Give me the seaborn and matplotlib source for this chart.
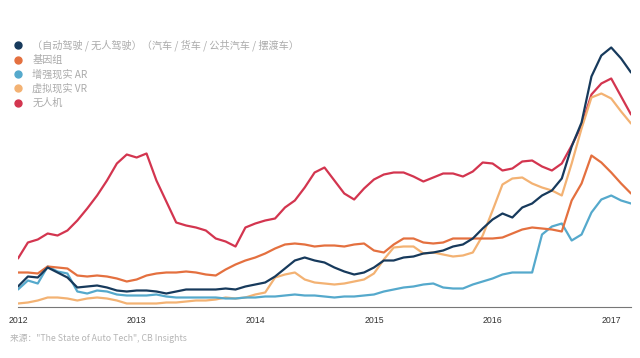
import numpy as np
import pandas as pd
import seaborn as sns
import matplotlib.pyplot as plt
from matplotlib.lines import Line2D

# monthly index values, Jan 2012 .. Mar 2017
auto = [20, 30, 29, 39, 34, 29, 19, 20, 21, 19, 16, 15, 16, 16, 15, 13, 15, 17, 17, 17,
        17, 18, 17, 20, 22, 24, 30, 38, 46, 49, 46, 44, 39, 35, 32, 34, 39, 46, 46, 49,
        50, 53, 54, 56, 60, 62, 68, 78, 87, 93, 89, 99, 103, 111, 116, 128, 160, 184, 230, 251,
        259, 248, 234]
genome = [34, 34, 33, 40, 39, 38, 31, 30, 31, 30, 28, 25, 27, 31, 33, 34, 34, 35, 34, 32,
          31, 37, 42, 46, 49, 53, 58, 62, 63, 62, 60, 61, 61, 60, 62, 63, 56, 54, 62, 68,
          68, 64, 63, 64, 68, 68, 68, 68, 68, 69, 73, 77, 79, 78, 77, 75, 106, 123, 151, 144,
          134, 123, 113]
ar = [17, 26, 23, 40, 35, 33, 15, 13, 16, 15, 12, 11, 11, 11, 12, 10, 9, 9, 9, 9,
      9, 8, 8, 9, 9, 10, 10, 11, 12, 11, 11, 10, 9, 10, 10, 11, 12, 15, 17, 19,
      20, 22, 23, 19, 18, 18, 22, 25, 28, 32, 34, 34, 34, 72, 80, 83, 66, 72, 94, 107,
      111, 106, 103]
vr = [3, 4, 6, 9, 9, 8, 6, 8, 9, 8, 6, 3, 3, 3, 3, 4, 4, 5, 6, 6,
      7, 9, 8, 9, 12, 14, 29, 32, 34, 27, 24, 23, 22, 23, 25, 27, 33, 47, 59, 60,
      60, 53, 54, 52, 50, 51, 54, 71, 96, 122, 128, 129, 123, 119, 116, 111, 143, 178, 209, 213,
      208, 195, 183]
drone = [48, 64, 67, 73, 71, 76, 86, 98, 111, 126, 143, 152, 149, 153, 126, 105, 84, 81, 79, 76,
         68, 65, 60, 79, 83, 86, 88, 99, 106, 119, 134, 139, 126, 113, 107, 118, 127, 132, 134, 134,
         130, 125, 129, 133, 133, 130, 135, 144, 143, 136, 138, 145, 146, 140, 136, 143, 161, 181, 212, 223,
         228, 210, 192]

labels = ['（自动驾驶 / 无人驾驶）（汽车 / 货车 / 公共汽车 / 摆渡车）',
          '基因组', '增强现实 AR', '虚拟现实 VR', '无人机']
colors = ['#173a5c', '#e4703f', '#55a9cc', '#f3b273', '#d3354f']
years = [2012, 2013, 2014, 2015, 2016, 2017]
source = '来源："The State of Auto Tech", CB Insights'


def main():
    series = [auto, genome, ar, vr, drone]
    rows = []
    for lab, vals in zip(labels, series):
        for i, v in enumerate(vals):
            rows.append({'t': 2012 + i / 12.0, 'v': v, 'topic': lab})
    df = pd.DataFrame(rows)

    sns.set_style('white')
    plt.rcParams['font.family'] = ['Noto Sans CJK SC', 'DejaVu Sans']

    fig = plt.figure(figsize=(6.4, 3.58), dpi=100, facecolor='white')
    ax = fig.add_axes([18 / 640, 1 - 306.5 / 358, 613 / 640, 261.5 / 358])

    # draw in reverse so the navy line sits on top like the original
    sns.lineplot(data=df, x='t', y='v', hue='topic', hue_order=labels[::-1],
                 palette=colors[::-1], linewidth=1.6, legend=False, ax=ax)

    t_end = 2012 + (len(auto) - 1) / 12.0
    ax.set_xlim(2012, t_end)
    ax.set_ylim(0, 261.5)
    ax.set_xlabel('')
    ax.set_ylabel('')
    ax.set_yticks([])
    ax.set_xticks(years + [t_end])
    ax.set_xticklabels([str(y) for y in years] + [''],
                       fontfamily='Liberation Sans', fontsize=6.3, color='#333333')
    ax.tick_params(axis='x', direction='out', length=4, width=0.8, color='#777777', pad=2.5)
    for s in ['top', 'left', 'right']:
        ax.spines[s].set_visible(False)
    ax.spines['bottom'].set_color('#777777')
    ax.spines['bottom'].set_linewidth(0.8)
    ax.patch.set_alpha(0)

    handles = [Line2D([], [], marker='o', linestyle='none', markersize=5,
                      markerfacecolor=c, markeredgecolor=c) for c in colors]
    fig.legend(handles, labels, loc='upper left', bbox_to_anchor=(14 / 640, 1 - 39.5 / 358),
               frameon=False, fontsize=7.3, labelcolor='#ababab', handlelength=0.8,
               handletextpad=1.0, labelspacing=0.4, borderaxespad=0, borderpad=0)

    fig.text(10 / 640, 1 - 338 / 358, source, fontsize=6.3, color='#b5b5b5',
             va='center', ha='left')

    plt.savefig('out.png', dpi=100, facecolor=fig.get_facecolor())


if __name__ == '__main__':
    main()
